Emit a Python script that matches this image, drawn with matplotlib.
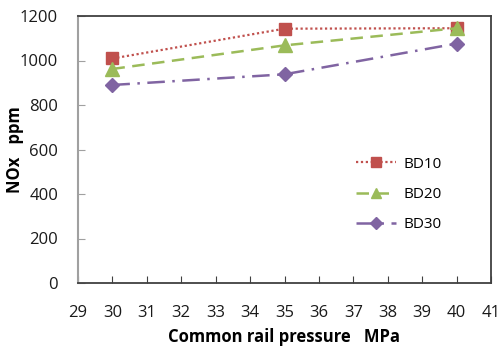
import matplotlib
matplotlib.use("Agg")
import matplotlib.pyplot as plt

pressure = [30, 35, 40]
bd10 = [1009, 1143, 1145]
bd20 = [962, 1068, 1145]
bd30 = [890, 938, 1076]
series_names = ["BD10", "BD20", "BD30"]
x_ticks = list(range(29, 42))
y_ticks = list(range(0, 1201, 200))

plt.rcParams['font.family'] = ['Open Sans', 'DejaVu Sans']

fig = plt.figure(figsize=(4.99, 3.49), dpi=100)
ax = fig.add_axes([78/499, 1-283/349, (491-78)/499, (283-16)/349])

ax.plot(pressure, bd10, color='#C0504D', linestyle=(0, (1, 1.2)), linewidth=1.6,
        marker='s', markersize=8.5, label=series_names[0])
ax.plot(pressure, bd20, color='#9BBB59', linestyle=(0, (5, 3)), linewidth=1.8,
        marker='^', markersize=9.5, label=series_names[1])
ax.plot(pressure, bd30, color='#8064A2', linestyle=(0, (7, 3, 1, 3)), linewidth=1.8,
        marker='D', markersize=7.5, label=series_names[2])

ax.set_xlim(29, 41)
ax.set_ylim(0, 1200)
ax.set_xticks(x_ticks)
ax.set_yticks(y_ticks)
ax.tick_params(axis='x', direction='in', length=5, color='#404040', labelsize=12, pad=15.5)
ax.tick_params(axis='y', direction='in', length=5, color='#A0A0A0', labelsize=12, pad=14.4)
for lab in ax.get_xticklabels() + ax.get_yticklabels():
    lab.set_color('#1a1a1a')

ax.spines['left'].set_color('#A0A0A0')
ax.spines['left'].set_linewidth(1.5)
for s in ['top', 'right', 'bottom']:
    ax.spines[s].set_color('#404040')
    ax.spines[s].set_linewidth(1.3)

ax.set_xlabel('Common rail pressure   MPa', fontsize=12, fontweight='bold', labelpad=5.5)
ax.set_ylabel('NOx   ppm', fontsize=12, fontweight='bold')
ax.yaxis.set_label_coords(-0.131, 0.5)

leg = ax.legend(loc='upper left', bbox_to_anchor=(0.64, 0.525), frameon=False,
                fontsize=11, handlelength=2.6, labelspacing=1.0, handletextpad=0.5,
                markerscale=0.8)

fig.savefig('out.png', dpi=100)
